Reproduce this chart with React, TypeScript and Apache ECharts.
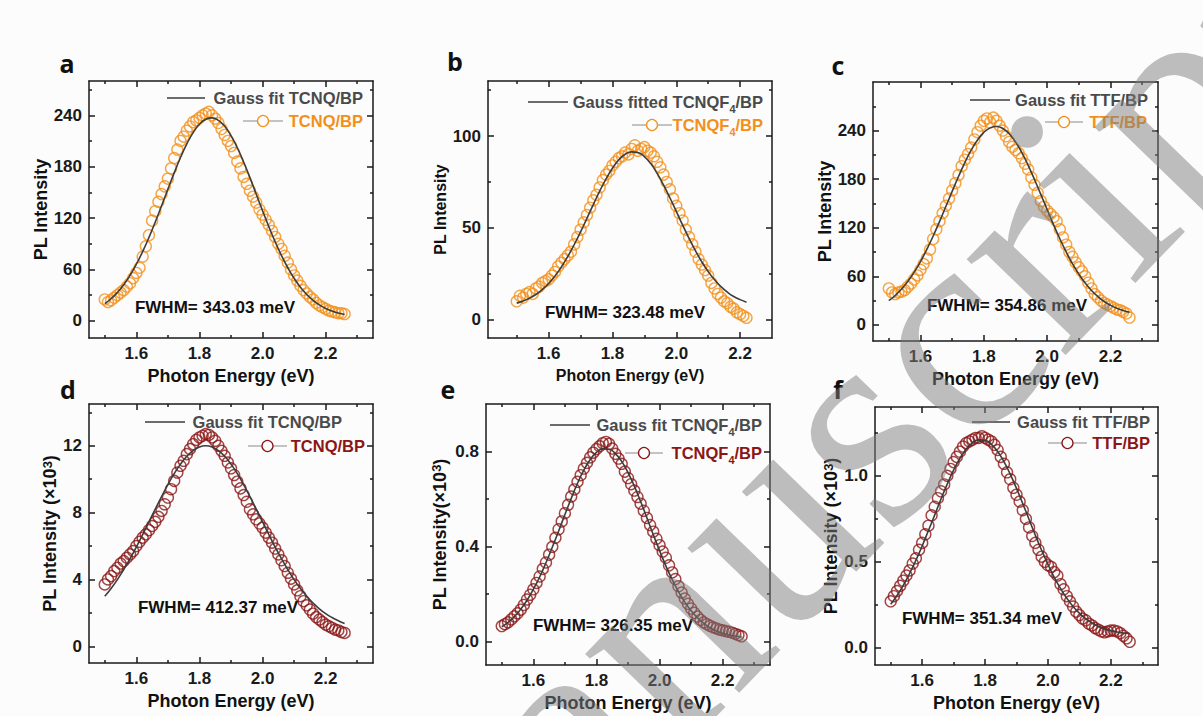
import React, { useEffect, useRef } from "react";
import * as echarts from "echarts";

// ---------- data ----------
const ENERGY = [
  1.50, 1.51, 1.52, 1.53, 1.54, 1.55, 1.56, 1.57, 1.58, 1.59,
  1.60, 1.61, 1.62, 1.63, 1.64, 1.65, 1.66, 1.67, 1.68, 1.69,
  1.70, 1.71, 1.72, 1.73, 1.74, 1.75, 1.76, 1.77, 1.78, 1.79,
  1.80, 1.81, 1.82, 1.83, 1.84, 1.85, 1.86, 1.87, 1.88, 1.89,
  1.90, 1.91, 1.92, 1.93, 1.94, 1.95, 1.96, 1.97, 1.98, 1.99,
  2.00, 2.01, 2.02, 2.03, 2.04, 2.05, 2.06, 2.07, 2.08, 2.09,
  2.10, 2.11, 2.12, 2.13, 2.14, 2.15, 2.16, 2.17, 2.18, 2.19,
  2.20, 2.21, 2.22, 2.23, 2.24, 2.25, 2.26,
];
const FIT_ENERGY = [
  1.50, 1.52, 1.54, 1.56, 1.58, 1.60, 1.62, 1.64, 1.66, 1.68,
  1.70, 1.72, 1.74, 1.76, 1.78, 1.80, 1.82, 1.84, 1.86, 1.88,
  1.90, 1.92, 1.94, 1.96, 1.98, 2.00, 2.02, 2.04, 2.06, 2.08,
  2.10, 2.12, 2.14, 2.16, 2.18, 2.20, 2.22, 2.24, 2.26,
];

const A_PL = [
  25, 22, 24, 27, 30, 33, 36, 40, 44, 50,
  56, 62, 75, 87, 100, 117, 128, 139, 148, 157,
  166, 178, 190, 200, 210, 215, 222, 227, 232, 234,
  237, 240, 242, 244, 240, 236, 231, 224, 217, 210,
  204, 196, 186, 178, 168, 160, 152, 145, 138, 130,
  124, 118, 112, 105, 98, 90, 84, 76, 68, 60,
  53, 47, 41, 36, 32, 28, 25, 21, 18, 16,
  14, 12, 11, 10, 9, 9, 8,
];
const A_FIT = [
  20.1, 25.8, 33.2, 42.2, 53.2, 66.1, 80.9, 97.4, 115.4, 134.4,
  153.8, 172.8, 190.7, 206.6, 219.8, 229.6, 235.4, 237.0, 234.1, 227.1,
  216.2, 202.1, 185.5, 167.2, 147.9, 128.6, 109.9, 92.3, 76.2, 62.0,
  49.7, 39.3, 30.8, 24.0, 18.6, 14.5, 11.4, 9.1, 7.4,
];

const B_PL = [
  10, 13, 12, 14, 15, 14, 17, 18, 20, 21,
  22, 24, 26, 29, 31, 33, 35, 37, 41, 45,
  49, 53, 57, 61, 65, 68, 72, 76, 79, 81,
  84, 86, 88, 89, 91, 90, 93, 95, 92, 93,
  94, 92, 91, 89, 86, 83, 79, 75, 71, 66,
  62, 58, 54, 49, 45, 41, 37, 33, 30, 27,
  24, 20, 17, 14, 12, 10, 9, 7, 6, 4,
  3, 2, 1,
];
const B_FIT = [
  9.0, 10.1, 11.7, 13.7, 16.4, 19.7, 23.8, 28.7, 34.4, 40.8,
  47.8, 55.2, 62.7, 70.0, 76.7, 82.5, 87.1, 90.1, 91.4, 91.0,
  88.8, 85.0, 79.7, 73.4, 66.4, 59.0, 51.5, 44.3, 37.6, 31.5,
  26.2, 21.7, 18.0, 15.0, 12.6, 10.9, 9.5,
];

const C_PL = [
  45, 40, 38, 40, 41, 43, 47, 51, 56, 61,
  68, 75, 82, 93, 106, 118, 128, 138, 147, 156,
  166, 175, 185, 196, 204, 211, 219, 229, 238, 246,
  252, 255, 250, 256, 252, 246, 240, 233, 226, 220,
  216, 212, 206, 199, 192, 182, 173, 163, 153, 146,
  141, 137, 133, 128, 118, 108, 99, 90, 84, 77,
  71, 66, 60, 52, 45, 38, 34, 30, 27, 25,
  23, 21, 19, 18, 16, 14, 9,
];
const C_FIT = [
  29.9, 36.2, 44.1, 53.7, 65.1, 78.2, 93.2, 109.7, 127.5, 146.1,
  164.9, 183.2, 200.4, 215.7, 228.3, 237.7, 243.3, 245.0, 242.5, 236.1,
  226.0, 212.8, 197.1, 179.6, 161.1, 142.3, 123.8, 106.3, 90.1, 75.4,
  62.6, 51.6, 42.4, 34.9, 28.8, 24.1, 20.4, 17.7, 15.6,
];

const D_PL = [
  3.7, 4.0, 4.2, 4.5, 4.7, 4.95, 5.1, 5.3, 5.5, 5.7,
  6.0, 6.25, 6.5, 6.7, 6.95, 7.2, 7.45, 7.75, 8.1, 8.5,
  8.9, 9.4, 9.9, 10.4, 10.8, 11.1, 11.5, 11.8, 12.1, 12.35,
  12.5, 12.6, 12.7, 12.65, 12.5, 12.3, 12.0, 11.7, 11.4, 11.0,
  10.65, 10.25, 9.85, 9.45, 9.05, 8.65, 8.2, 7.9, 7.6, 7.35,
  7.1, 6.8, 6.5, 6.2, 5.85, 5.5, 5.15, 4.8, 4.4, 4.05,
  3.7, 3.35, 3.0, 2.7, 2.45, 2.2, 1.95, 1.75, 1.6, 1.45,
  1.3, 1.2, 1.1, 1.0, 0.95, 0.85, 0.8,
];
const D_FIT = [
  2.99, 3.46, 3.99, 4.59, 5.24, 5.94, 6.68, 7.45, 8.21, 8.96,
  9.68, 10.33, 10.90, 11.37, 11.71, 11.93, 12.00, 11.93, 11.71, 11.37,
  10.90, 10.33, 9.68, 8.96, 8.21, 7.45, 6.68, 5.94, 5.24, 4.59,
  3.99, 3.46, 2.99, 2.59, 2.24, 1.95, 1.72, 1.53, 1.37,
];

const E_PL = [
  0.064, 0.072, 0.080, 0.092, 0.105, 0.118, 0.133, 0.153, 0.176, 0.196,
  0.219, 0.246, 0.273, 0.305, 0.332, 0.365, 0.398, 0.436, 0.472, 0.505,
  0.540, 0.575, 0.610, 0.640, 0.672, 0.700, 0.728, 0.752, 0.775, 0.795,
  0.810, 0.822, 0.835, 0.840, 0.832, 0.812, 0.790, 0.770, 0.748, 0.715,
  0.688, 0.662, 0.635, 0.608, 0.580, 0.550, 0.520, 0.490, 0.462, 0.432,
  0.405, 0.378, 0.352, 0.320, 0.290, 0.262, 0.232, 0.205, 0.180, 0.158,
  0.138, 0.120, 0.104, 0.090, 0.080, 0.072, 0.065, 0.059, 0.054, 0.049,
  0.046, 0.043, 0.040, 0.036, 0.031, 0.026, 0.021,
];
const E_FIT = [
  0.061, 0.080, 0.104, 0.135, 0.173, 0.219, 0.271, 0.331, 0.396, 0.464,
  0.534, 0.602, 0.666, 0.721, 0.765, 0.796, 0.811, 0.809, 0.791, 0.758,
  0.711, 0.654, 0.589, 0.520, 0.450, 0.382, 0.318, 0.260, 0.209, 0.165,
  0.129, 0.099, 0.076, 0.057, 0.044, 0.034, 0.027, 0.022, 0.018,
];

const F_PL = [
  0.27, 0.30, 0.33, 0.36, 0.39, 0.42, 0.45, 0.49, 0.52, 0.57,
  0.61, 0.66, 0.71, 0.77, 0.82, 0.87, 0.91, 0.95, 1.00, 1.04,
  1.08, 1.11, 1.14, 1.17, 1.19, 1.20, 1.21, 1.22, 1.22, 1.23,
  1.22, 1.21, 1.20, 1.18, 1.15, 1.11, 1.07, 1.02, 0.98, 0.93,
  0.89, 0.85, 0.80, 0.75, 0.70, 0.65, 0.61, 0.57, 0.53, 0.50,
  0.48, 0.47, 0.44, 0.42, 0.37, 0.34, 0.30, 0.27, 0.24, 0.21,
  0.19, 0.17, 0.16, 0.14, 0.13, 0.115, 0.105, 0.095, 0.09, 0.095,
  0.10, 0.10, 0.095, 0.085, 0.07, 0.055, 0.035,
];
const F_FIT = [
  0.253, 0.304, 0.363, 0.432, 0.508, 0.592, 0.682, 0.773, 0.865, 0.953,
  1.033, 1.101, 1.155, 1.192, 1.209, 1.206, 1.183, 1.141, 1.082, 1.010,
  0.927, 0.838, 0.746, 0.654, 0.567, 0.485, 0.410, 0.345, 0.288, 0.240,
  0.201, 0.169, 0.144, 0.125, 0.110, 0.100, 0.092, 0.086, 0.083,
];

const PANEL_LETTERS = ["a", "b", "c", "d", "e", "f"];
const FIT_LABELS = [
  "Gauss fit TCNQ/BP",
  "Gauss fitted TCNQF{sub|4}/BP",
  "Gauss fit TTF/BP",
  "Gauss fit TCNQ/BP",
  "Gauss fit TCNQF{sub|4}/BP",
  "Gauss fit TTF/BP",
];
const DATA_LABELS = ["TCNQ/BP", "TCNQF{sub|4}/BP", "TTF/BP", "TCNQ/BP", "TCNQF{sub|4}/BP", "TTF/BP"];
const FWHM_LABELS = [
  "FWHM= 343.03 meV",
  "FWHM= 323.48 meV",
  "FWHM= 354.86 meV",
  "FWHM= 412.37 meV",
  "FWHM= 326.35 meV",
  "FWHM= 351.34 meV",
];
const Y_NAMES = [
  "PL Intensity",
  "PL Intensity",
  "PL Intensity",
  "PL Intensity (×10{sup|3})",
  "PL Intensity(×10{sup|3})",
  "PL Intensity (×10{sup|3})",
];
const X_NAME = "Photon Energy (eV)";
const X_MAJOR = [1.6, 1.8, 2.0, 2.2];
const X_MINOR = [1.5, 1.7, 1.9, 2.1, 2.3];
const Y_MAJOR = [
  [0, 60, 120, 180, 240],
  [0, 50, 100],
  [0, 60, 120, 180, 240],
  [0, 4, 8, 12],
  [0, 0.4, 0.8],
  [0, 0.5, 1.0],
];
const Y_MINOR = [
  [30, 90, 150, 210, 270],
  [25, 75, 125],
  [30, 90, 150, 210, 270],
  [2, 6, 10, 14],
  [0.2, 0.6],
  [0.25, 0.75, 1.25],
];
const Y_DECIMALS = [0, 0, 0, 0, 1, 1];
const PANEL_DATA = [A_PL, B_PL, C_PL, D_PL, E_PL, F_PL];
const PANEL_FIT = [A_FIT, B_FIT, C_FIT, D_FIT, E_FIT, F_FIT];
const WATERMARK = "manuscript";

// ---------- layout / style ----------
const ORANGE = "#F39019";
const DARKRED = "#8B1616";
const FIT_COLOR = "#3c3c3c";
const SANS = '"Liberation Sans", Arial, sans-serif';

const LAYOUT = [
  { left: 89, top: 81, width: 284, height: 257, xMin: 1.45, xMax: 2.35, yMin: -20, yMax: 280, color: ORANGE, nameSize: 18, yGap: 38 },
  { left: 488, top: 81, width: 284, height: 257, xMin: 1.41, xMax: 2.3, yMin: -10, yMax: 130, color: ORANGE, nameSize: 16, yGap: 39 },
  { left: 873, top: 82, width: 285, height: 259, xMin: 1.45, xMax: 2.35, yMin: -20, yMax: 300, color: ORANGE, nameSize: 18, yGap: 38 },
  { left: 89, top: 404, width: 284, height: 259, xMin: 1.45, xMax: 2.35, yMin: -1, yMax: 14.5, color: DARKRED, nameSize: 18, yGap: 23 },
  { left: 486, top: 404, width: 284, height: 261, xMin: 1.45, xMax: 2.35, yMin: -0.1, yMax: 1.0, color: DARKRED, nameSize: 18, yGap: 37 },
  { left: 875, top: 407, width: 283, height: 258, xMin: 1.45, xMax: 2.35, yMin: -0.1, yMax: 1.4, color: DARKRED, nameSize: 18, yGap: 33 },
];
const LETTER_POS = [[67, 63], [455, 61], [838, 65], [68, 389], [448, 389], [838, 389]];
const FWHM_POS = [[215, 307], [625, 312], [1007, 305], [218, 607], [613, 625], [982, 618]];
// legend: [fitTextRight, fitY, lineX1, lineX2, dataTextRight, dataY, symX1, symX2]
const LEGEND_POS = [
  [363, 98, 167, 205, 363, 121, 243, 283],
  [763, 102, 528, 568, 763, 125, 632, 672],
  [1148, 100, 970, 1010, 1147, 122, 1045, 1083],
  [342, 422, 145, 185, 365, 446, 248, 287],
  [762, 425, 550, 590, 762, 453, 625, 663],
  [1150, 422, 972, 1010, 1150, 443, 1048, 1087],
];

const AXIS_COLOR = "#1a1a1a";

function buildOption() {
  const grid: any[] = [];
  const xAxis: any[] = [];
  const yAxis: any[] = [];
  const series: any[] = [];
  const graphic: any[] = [];

  LAYOUT.forEach((L, i) => {
    grid.push({ left: L.left, top: L.top, width: L.width, height: L.height, containLabel: false });
    const xMinors = X_MINOR.filter((v) => v > L.xMin + 1e-6 && v < L.xMax - 1e-6);
    const yMinors = Y_MINOR[i].filter((v) => v > L.yMin + 1e-9 && v < L.yMax - 1e-9);
    const xb = { type: "value", gridIndex: i, min: L.xMin, max: L.xMax, splitLine: { show: false } };
    const yb = { type: "value", gridIndex: i, min: L.yMin, max: L.yMax, splitLine: { show: false } };
    const line = { show: true, onZero: false, lineStyle: { color: AXIS_COLOR, width: 1.5 } };
    const noLine = { show: false, onZero: false };
    const tick = (vals: number[], len: number) => ({
      show: true, inside: true, length: len, customValues: vals,
      lineStyle: { color: AXIS_COLOR, width: 1.5 },
    });
    const nameStyle = {
      fontFamily: SANS, fontWeight: "bold", fontSize: L.nameSize, color: "#111",
      rich: {
        sup: { fontFamily: SANS, fontWeight: "bold", fontSize: 13, color: "#111", verticalAlign: "top", padding: [0, 0, 6, 0] },
      },
    };
    xAxis.push(
      {
        ...xb, position: "bottom", axisLine: line, axisTick: tick(X_MAJOR, 6),
        axisLabel: {
          show: true, customValues: X_MAJOR, margin: 7, formatter: (v: number) => v.toFixed(1),
          fontFamily: SANS, fontWeight: "bold", fontSize: 17, color: AXIS_COLOR,
        },
        name: X_NAME, nameLocation: "middle", nameGap: 29, nameTextStyle: nameStyle,
      },
      { ...xb, position: "bottom", axisLine: noLine, axisTick: tick(xMinors, 3), axisLabel: { show: false } },
      { ...xb, position: "top", axisLine: line, axisTick: tick(X_MAJOR, 6), axisLabel: { show: false } },
      { ...xb, position: "top", axisLine: noLine, axisTick: tick(xMinors, 3), axisLabel: { show: false } },
    );
    yAxis.push(
      {
        ...yb, position: "left", axisLine: line, axisTick: tick(Y_MAJOR[i], 6),
        axisLabel: {
          show: true, customValues: Y_MAJOR[i], margin: 7,
          formatter: (v: number) => v.toFixed(Y_DECIMALS[i]),
          fontFamily: SANS, fontWeight: "bold", fontSize: 17, color: AXIS_COLOR,
        },
        name: Y_NAMES[i], nameLocation: "middle", nameRotate: 90, nameGap: L.yGap, nameTextStyle: nameStyle,
      },
      { ...yb, position: "left", axisLine: noLine, axisTick: tick(yMinors, 3), axisLabel: { show: false } },
      { ...yb, position: "right", axisLine: line, axisTick: tick(Y_MAJOR[i], 6), axisLabel: { show: false } },
      { ...yb, position: "right", axisLine: noLine, axisTick: tick(yMinors, 3), axisLabel: { show: false } },
    );

    const pl = PANEL_DATA[i];
    const fit = PANEL_FIT[i];
    series.push({
      type: "scatter",
      name: DATA_LABELS[i],
      xAxisIndex: i * 4, yAxisIndex: i * 4,
      symbol: "circle", symbolSize: 11,
      itemStyle: { color: "rgba(255,255,255,0)", borderColor: L.color, borderWidth: 1.4 },
      data: pl.map((v, k) => [ENERGY[k], v]),
      z: 2,
    });
    series.push({
      type: "line",
      name: FIT_LABELS[i],
      xAxisIndex: i * 4, yAxisIndex: i * 4,
      symbol: "none", smooth: true,
      lineStyle: { color: FIT_COLOR, width: 1.6 },
      data: fit.map((v, k) => [FIT_ENERGY[k], v]),
      z: 3,
    });

    // panel letter
    graphic.push({
      type: "text", x: LETTER_POS[i][0], y: LETTER_POS[i][1],
      style: {
        text: PANEL_LETTERS[i], fill: "#111", fontSize: 25, fontWeight: "bold",
        fontFamily: '"Open Sans", sans-serif', align: "center", verticalAlign: "middle",
        textAlign: "center", textVerticalAlign: "middle",
      },
    });
    // FWHM annotation
    graphic.push({
      type: "text", x: FWHM_POS[i][0], y: FWHM_POS[i][1], z: 20,
      style: {
        text: FWHM_LABELS[i], fill: "#111", fontSize: 17, fontWeight: "bold", fontFamily: SANS,
        align: "center", verticalAlign: "middle", textAlign: "center", textVerticalAlign: "middle",
      },
    });
    // legend
    const P = LEGEND_POS[i];
    const sub = { fontFamily: SANS, fontWeight: "bold", fontSize: 11, verticalAlign: "bottom", padding: [0, 0, -4, 0] };
    graphic.push({
      type: "line", z: 20,
      shape: { x1: P[2], y1: P[1], x2: P[3], y2: P[1] },
      style: { stroke: FIT_COLOR, lineWidth: 1.5 },
    });
    graphic.push({
      type: "text", x: P[0], y: P[1], z: 20,
      style: {
        text: FIT_LABELS[i], fill: "#4a4a4a", fontSize: 16.5, fontWeight: "bold", fontFamily: SANS,
        align: "right", verticalAlign: "middle", textAlign: "right", textVerticalAlign: "middle",
        rich: { sub: { ...sub, fill: "#4a4a4a" } },
      },
    });
    graphic.push({
      type: "line", z: 20,
      shape: { x1: P[6], y1: P[5], x2: P[7], y2: P[5] },
      style: { stroke: "#8a8a8a", lineWidth: 1.2 },
    });
    graphic.push({
      type: "circle", z: 21,
      shape: { cx: (P[6] + P[7]) / 2, cy: P[5], r: 5.5 },
      style: { fill: "#fcfcfc", stroke: L.color, lineWidth: 1.3 },
    });
    graphic.push({
      type: "text", x: P[4], y: P[5], z: 20,
      style: {
        text: DATA_LABELS[i], fill: L.color, fontSize: 16.5, fontWeight: "bold", fontFamily: SANS,
        align: "right", verticalAlign: "middle", textAlign: "right", textVerticalAlign: "middle",
        rich: { sub: { ...sub, fill: L.color } },
      },
    });
  });

  // watermark
  graphic.push({
    type: "text", x: 352, y: 948, rotation: (46 * Math.PI) / 180, z: 100, silent: true,
    style: {
      text: WATERMARK, fill: "rgba(125,125,125,0.5)", fontSize: 300,
      fontFamily: '"Liberation Serif", serif', align: "left", verticalAlign: "middle",
      textAlign: "left", textVerticalAlign: "middle",
    },
  });

  return {
    animation: false,
    backgroundColor: "#fcfcfc",
    textStyle: { fontFamily: SANS },
    grid, xAxis, yAxis, series, graphic,
  };
}

export default function App() {
  const ref = useRef<HTMLDivElement>(null);
  useEffect(() => {
    if (!ref.current) return;
    const chart = echarts.init(ref.current, undefined, { renderer: "svg" });
    chart.setOption(buildOption() as any);
    return () => chart.dispose();
  }, []);
  return (
    <div
      ref={ref}
      style={{ position: "fixed", left: 0, top: 0, width: 1203, height: 716, background: "#fcfcfc" }}
    />
  );
}
